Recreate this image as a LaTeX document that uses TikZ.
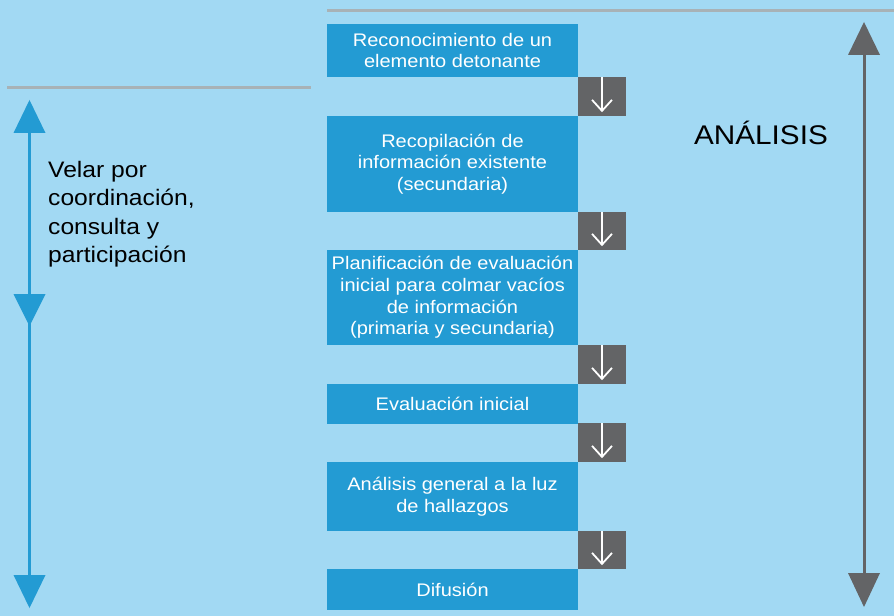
\documentclass[tikz,border=0pt]{standalone}
\usepackage{fontspec}
\setmainfont[FakeStretch=1.1]{Liberation Sans}
\usetikzlibrary{arrows.meta}
\definecolor{bg}{HTML}{A2D9F3}
\definecolor{boxblue}{HTML}{239BD3}
\definecolor{darkgray}{HTML}{636466}
\definecolor{rulegray}{HTML}{A8B2B6}
\tikzset{
  stepbox/.style={fill=boxblue, draw=none, minimum width=251bp, inner sep=0pt,
    text=white, align=center, font=\fontsize{18.2bp}{21.7bp}\selectfont},
  arrowbox/.style={fill=darkgray, draw=none, minimum width=48bp, inner sep=0pt},
  flowarrow/.style={draw=white, line width=1.8bp,
    -{Straight Barb[length=11bp,width=20bp,line width=1.8bp]}},
  sidetext/.style={inner sep=0pt, align=left, text=black,
    font=\fontsize{22.4bp}{28.5bp}\selectfont}
}
\begin{document}
\begin{tikzpicture}[x=1bp,y=-1bp]
\fill[bg] (0,0) rectangle (894,616);
\useasboundingbox (0,0) rectangle (894,616);
% rules
\draw[rulegray, line width=3bp] (327,11) -- (894,11);
\draw[rulegray, line width=3bp] (7,88) -- (311,88);
% steps
\node[stepbox, minimum height=53bp] (s1) at (452.5,50.5) {Reconocimiento de un\\elemento detonante};
\node[stepbox, minimum height=96bp] (s2) at (452.5,164) {Recopilación de\\información existente\\(secundaria)};
\node[stepbox, minimum height=95bp] (s3) at (452.5,297.5) {Planificación de evaluación\\inicial para colmar vacíos\\de información\\(primaria y secundaria)};
\node[stepbox, minimum height=40bp] (s4) at (452.5,404) {Evaluación inicial};
\node[stepbox, minimum height=69bp] (s5) at (452.5,496.5) {Análisis general a la luz\\de hallazgos};
\node[stepbox, minimum height=41bp] (s6) at (452.5,589.5) {Difusión};
% arrow boxes
\node[arrowbox, minimum height=39bp] (a1) at (602,96.5) {};
\node[arrowbox, minimum height=38bp] (a2) at (602,231) {};
\node[arrowbox, minimum height=39bp] (a3) at (602,364.5) {};
\node[arrowbox, minimum height=39bp] (a4) at (602,442.5) {};
\node[arrowbox, minimum height=38bp] (a5) at (602,550) {};
\foreach \a in {a1,a2,a3,a4,a5}{
  \draw[flowarrow] (\a.north) -- ([yshift=4bp]\a.south);
}
% left double arrow
\coordinate (lt) at (29.5,133);
\coordinate (lb) at (29.5,575);
\draw[boxblue, line width=3bp] (lt) -- (lb);
\fill[boxblue] (13.5,133) -- (29.5,100) -- (45.5,133) -- cycle;
\fill[boxblue] (13.5,294) -- (29.5,326) -- (45.5,294) -- cycle;
\fill[boxblue] (13.5,575) -- (29.5,608) -- (45.5,575) -- cycle;
\node[sidetext, anchor=base west] (vel) at (48,263) {Velar por\\coordinación,\\consulta y\\participación};
% right double arrow
\coordinate (rt) at (864,55);
\coordinate (rb) at (864,573);
\draw[darkgray, line width=3bp] (rt) -- (rb);
\fill[darkgray] (848,55) -- (864,22) -- (880,55) -- cycle;
\fill[darkgray] (848,573) -- (864,607) -- (880,573) -- cycle;
\node[inner sep=0pt, text=black, font=\fontsize{27bp}{30bp}\selectfont] (an) at (761,133) {ANÁLISIS};
\end{tikzpicture}
\end{document}
